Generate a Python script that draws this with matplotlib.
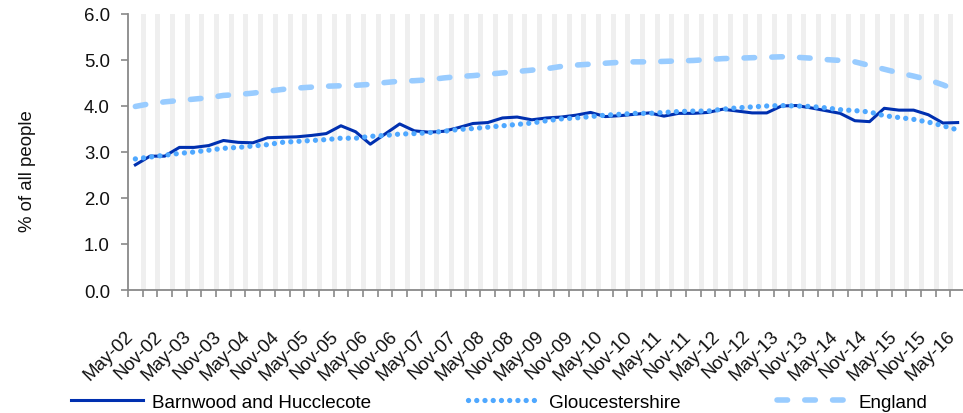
import numpy as np
import matplotlib
matplotlib.use('Agg')
import matplotlib.pyplot as plt
from matplotlib.transforms import ScaledTranslation

plt.rcParams['font.family'] = ['Liberation Sans', 'DejaVu Sans']

# quarterly labels May-02 .. May-16
months = ['May', 'Aug', 'Nov', 'Feb']
labels = []
for i in range(57):
    m = months[i % 4]
    yr = 2 + (i + 1) // 4 if m == 'Feb' else 2 + i // 4
    labels.append('%s-%02d' % (m, yr))

barnwood = [2.72, 2.91, 2.91, 3.10, 3.10, 3.14, 3.25, 3.21, 3.20, 3.31,
            3.32, 3.33, 3.36, 3.40, 3.57, 3.44, 3.17, 3.39, 3.61, 3.46,
            3.43, 3.45, 3.53, 3.62, 3.64, 3.74, 3.76, 3.70, 3.74, 3.76,
            3.80, 3.86, 3.77, 3.79, 3.82, 3.85, 3.78, 3.84, 3.84, 3.86,
            3.93, 3.89, 3.85, 3.85, 4.00, 4.01, 3.96, 3.90, 3.84, 3.68,
            3.66, 3.95, 3.91, 3.91, 3.81, 3.63, 3.64]

gloucestershire = [2.85, 2.89, 2.93, 2.97, 3.00, 3.04, 3.08, 3.10, 3.13, 3.16,
                   3.21, 3.23, 3.25, 3.27, 3.30, 3.30, 3.34, 3.36, 3.39, 3.40,
                   3.42, 3.45, 3.49, 3.51, 3.54, 3.57, 3.60, 3.63, 3.68, 3.72,
                   3.74, 3.77, 3.80, 3.82, 3.84, 3.84, 3.86, 3.88, 3.89, 3.89,
                   3.93, 3.96, 3.98, 4.00, 4.01, 4.00, 3.99, 3.96, 3.92, 3.90,
                   3.87, 3.79, 3.75, 3.71, 3.65, 3.57, 3.48]

england = [3.99, 4.05, 4.09, 4.12, 4.15, 4.18, 4.23, 4.25, 4.28, 4.32,
           4.36, 4.39, 4.41, 4.43, 4.44, 4.45, 4.47, 4.51, 4.54, 4.55,
           4.57, 4.61, 4.64, 4.66, 4.69, 4.72, 4.75, 4.78, 4.81, 4.86,
           4.89, 4.91, 4.93, 4.95, 4.96, 4.96, 4.97, 4.98, 4.99, 5.01,
           5.03, 5.04, 5.05, 5.06, 5.07, 5.06, 5.04, 5.01, 4.99, 4.96,
           4.88, 4.80, 4.72, 4.65, 4.57, 4.46, 4.33]

x = np.arange(len(labels))

fig = plt.figure(figsize=(9.63, 4.14), dpi=100)
ax = fig.add_axes([128/963, 123/414, 837/963, 276/414])

# gray stripes at category boundaries
for b in np.arange(0.5, len(labels) - 0.5, 1):
    ax.axvline(b, color='#efefef', lw=3.6, zorder=0)

ax.plot(x, barnwood, color='#0030b0', lw=2.2, label='Barnwood and Hucclecote', zorder=3)
ax.plot(x, gloucestershire, color='#4fa8ff', lw=3.8, linestyle=(0, (0.01, 1.55)),
        dash_capstyle='round', label='Gloucestershire', zorder=4)
ax.plot(x, england, color='#99ccff', lw=4.0, linestyle=(0, (1.9, 3.1)),
        dash_capstyle='round', label='England', zorder=2)

ax.set_xlim(-0.5, len(labels) - 0.5)
ax.set_ylim(0, 6)
ax.set_yticks(np.arange(0, 7, 1))
ax.set_yticklabels(['%.1f' % v for v in np.arange(0, 7, 1)])

ax.set_xticks(x[::2])
ax.set_xticklabels(labels[::2], rotation=45, ha='right', va='center', rotation_mode='anchor')
ax.set_xticks(np.arange(-0.5, len(labels), 1), minor=True)
ax.tick_params(axis='x', which='major', length=0, pad=31, labelsize=13.4, colors='#111111')
ax.tick_params(axis='x', which='minor', length=5, width=1.2, color='#898989')
ax.tick_params(axis='y', length=5, width=1.2, color='#898989', pad=8, labelsize=13.4,
               labelcolor='#111111')
for lbl in ax.get_xticklabels():
    lbl.set_transform(lbl.get_transform() + ScaledTranslation(-5/100, 0, fig.dpi_scale_trans))

for s in ['top', 'right']:
    ax.spines[s].set_visible(False)
for s in ['left', 'bottom']:
    ax.spines[s].set_color('#898989')
    ax.spines[s].set_linewidth(1.3)

fig.text(28/963, 1 - 171/414, '% of all people', rotation=90, ha='center', va='center',
         fontsize=13.4, color='#111111')

fig.legend(loc='center', bbox_to_anchor=(499/963, 11/414), ncol=3, frameon=False,
           fontsize=13.6, handlelength=3.8, handletextpad=0.5, columnspacing=5.1)

fig.savefig('out.png', dpi=100)
